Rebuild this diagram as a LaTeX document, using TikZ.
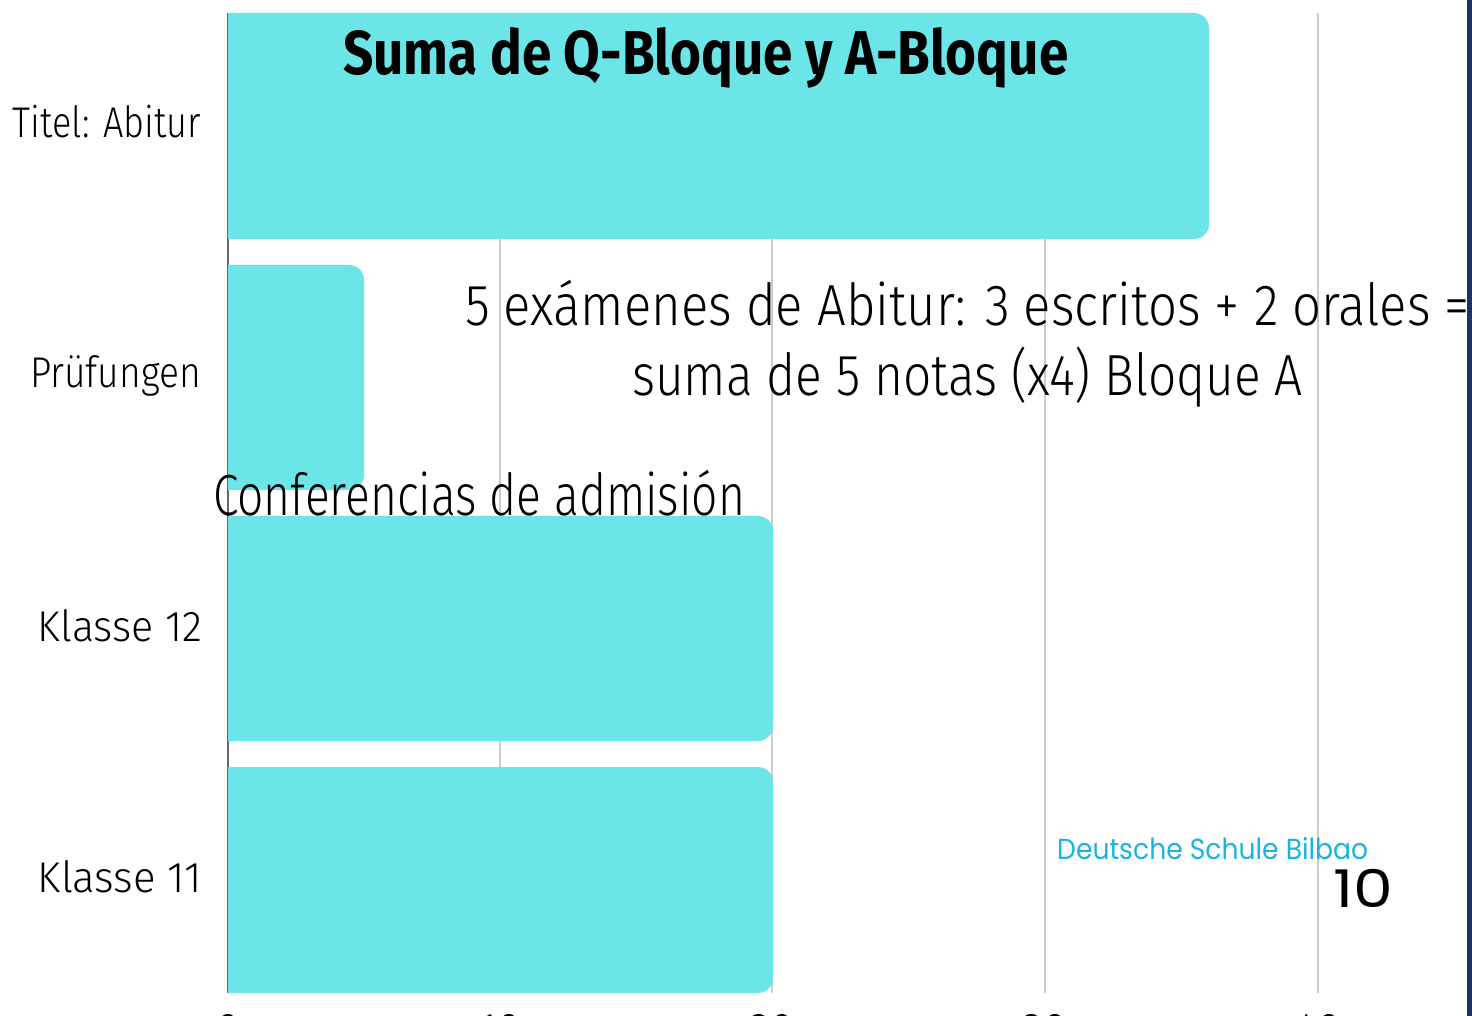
\documentclass[tikz,border=0pt]{standalone}
\usepackage{fontspec}
\usepackage{graphicx}
\setmainfont{Fira Sans Light}[BoldFont=Fira Sans Bold]
\newfontfamily\logofont{Poppins}
\definecolor{barcyan}{HTML}{6CE5E8}
\definecolor{gridgray}{HTML}{CCCCCC}
\definecolor{axisgray}{HTML}{666666}
\definecolor{navy}{HTML}{1D3365}
\definecolor{logoblue}{HTML}{1BB3DF}
\newcommand{\fitw}[2]{\resizebox{#1}{\height}{#2}}
\newcommand{\hbarshape}[4]{% x0, x1, ytop, ybottom
  \fill[barfill] (#1,#3) -- ({#2-15},#3) arc[start angle=-90,end angle=0,radius=15]
    -- (#2,{#4-15}) arc[start angle=0,end angle=90,radius=15] -- (#1,#4) -- cycle;}
\tikzset{
  barfill/.style={fill=barcyan},
  gridline/.style={draw=gridgray, line width=1.5pt},
  axisline/.style={draw=axisgray, line width=1.5pt},
  lbl/.style={inner sep=0pt, outer sep=0pt, font=\fontsize{43}{50}\selectfont, text=black},
  big/.style={inner sep=0pt, outer sep=0pt, font=\fontsize{58}{70}\selectfont, text=black},
}
\begin{document}
\begin{tikzpicture}[x=1pt,y=-1pt]
\useasboundingbox (0,0) rectangle (1472,1016);
\fill[white] (0,0) rectangle (1472,1016);
% grid lines
\foreach \gx/\gn in {500/g1,772/g2,1045/g3,1318/g4}{
  \coordinate (\gn t) at (\gx,13);
  \coordinate (\gn b) at (\gx,993);
  \draw[gridline] (\gn t) -- (\gn b);
}
\coordinate (axt) at (228,13);
\coordinate (axb) at (228,993);
\draw[axisline] (axt) -- (axb);
% bars
\hbarshape{228}{1209}{13}{239}
\hbarshape{228}{364}{265}{490}
\hbarshape{228}{773}{516}{741}
\hbarshape{228}{773}{767}{993}
% category labels
\node[lbl, anchor=base east] (l1) at (201,138) {\fitw{188pt}{Titel: Abitur}};
\node[lbl, anchor=base east] (l2) at (201,387) {\fitw{171pt}{Prüfungen}};
\node[lbl, anchor=base east] (l3) at (202,641) {\fitw{164pt}{Klasse 12}};
\node[lbl, anchor=base east] (l4) at (202,892) {\fitw{164pt}{Klasse 11}};
% tick labels (cut by bottom edge)
\foreach \tx/\tl/\tn in {228/0/t0,500/10/t1,772/20/t2,1045/30/t3,1318/40/t4}{
  \node[lbl, anchor=base] (\tn) at (\tx,1043) {\tl};
}
% title
\node[inner sep=0pt, anchor=base west, font=\fontsize{62}{70}\selectfont\bfseries] (title) at (343,75) {\fitw{725pt}{Suma de Q-Bloque y A-Bloque}};
% annotations
\node[big, anchor=base west] (ann1) at (465,325) {\fitw{1005pt}{5 exámenes de Abitur: 3 escritos + 2 orales =}};
\node[big, anchor=base west] (ann2) at (632,395) {\fitw{671pt}{suma de 5 notas (x4) Bloque A}};
\node[big, anchor=base west] (conf) at (213,515) {\fitw{532pt}{Conferencias de admisión}};
\node[inner sep=0pt, anchor=base west, font=\logofont\fontsize{29}{34}\selectfont, text=logoblue] (logo) at (1057,859) {\fitw{311pt}{Deutsche Schule Bilbao}};
\node[inner sep=0pt, anchor=base west, font=\logofont\fontsize{52}{60}\selectfont, text=black] (page) at (1333,907) {\fitw{60pt}{10}};
% right navy edge
\fill[navy] (1467,0) rectangle (1472,1016);
\end{tikzpicture}
\end{document}
